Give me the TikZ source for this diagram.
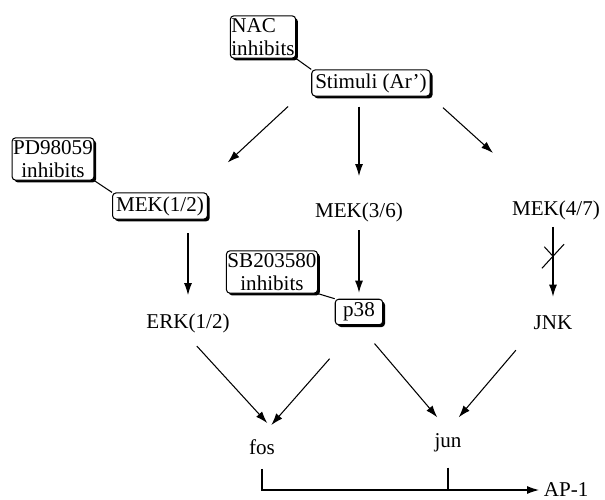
\documentclass[tikz,border=0pt]{standalone}
\usepackage{fontspec}
\setmainfont{Liberation Serif}
\usetikzlibrary{arrows.meta,shadows,shapes.misc}

\begin{document}
\begin{tikzpicture}[x=0.02cm,y=-0.02cm,
  every node/.style={font=\fontsize{12}{13}\selectfont, inner xsep=2pt, inner ysep=2pt},
  box/.style={draw, fill=white, rounded corners=2pt, line width=0.6pt,
    drop shadow={shadow xshift=1.3pt, shadow yshift=-1.3pt, opacity=1, fill=black}},
  drug/.style={box, inner xsep=0.6pt, inner ysep=1.5pt, align=center},
  arr/.style={-{Latex[length=2.4mm,width=1.6mm]}, line width=0.6pt},
  link/.style={line width=0.6pt}]
\useasboundingbox (0,0) rectangle (605,500);

% boxes and labels
\node[drug, align=left] (nac) at (263,37) {NAC\\inhibits};
\node[box] (stim) at (371,83) {Stimuli (Ar’)};
\node[drug] (pd) at (53,159) {PD98059\\inhibits};
\node[box] (mek12) at (160,206) {MEK(1/2)};
\node (mek36) at (359,212) {MEK(3/6)};
\node (mek47) at (556,210) {MEK(4/7)};
\node[drug] (sb) at (272,272) {SB203580\\inhibits};
\node[box, minimum width=0.95cm] (p38) at (359,312) {p38};
\node (erk) at (188,323) {ERK(1/2)};
\node (jnk) at (553,323) {JNK};
\node (fos) at (262,447) {fos};
\node (jun) at (448,443) {jun};
\node[anchor=west] (ap1) at (540,490) {AP-1};

% inhibitor links
\draw[link] (nac.south east) -- (stim.north west);
\draw[link] (pd.south east) -- (mek12.north west);
\draw[link] (sb.south east) -- (p38.north west);

% cascade
\draw[arr, shorten <=0.29cm, shorten >=0.88cm] ([xshift=-0.25cm]stim.south west) -- ([xshift=-0.25cm]mek12.north east);
\draw[arr, shorten <=0.2cm, shorten >=0.45cm] (stim.south -| mek36) -- (mek36.north);
\draw[arr, shorten <=0.33cm, shorten >=1.3cm] (stim.south east) -- (mek47);
\draw[arr, shorten <=0.27cm, shorten >=0.29cm] (erk |- mek12.south) -- (erk.north);
\draw[arr, shorten <=0.1cm, shorten >=0.12cm] (mek36.south -| p38) -- (p38.north);
\draw[arr, shorten <=0.07cm, shorten >=0.31cm] (jnk |- mek47.south) -- node[pos=0.37, cross out, draw, minimum width=0.42cm, minimum height=0.46cm, inner sep=0pt, line width=0.6pt] (blk) {} (jnk.north);
\draw[arr, shorten <=0.26cm, shorten >=0.34cm] (erk.south) -- (fos.north east);
\draw[arr, shorten <=0.89cm, shorten >=0.28cm] (p38.south) -- (fos.north);
\draw[arr, shorten <=0.48cm, shorten >=0.33cm] (p38.south) -- (jun.north);
\draw[arr, shorten <=0.43cm, shorten >=0.33cm] (jnk.south west) -- (jun.north);

% AP-1
\draw[arr, shorten <=0.21cm, shorten >=0.02cm] (fos.south) -- (fos.south |- ap1.west) -- (ap1.west);
\draw[link, shorten <=0.23cm] (jun.south) -- (jun.south |- ap1.west);
\end{tikzpicture}
\end{document}
